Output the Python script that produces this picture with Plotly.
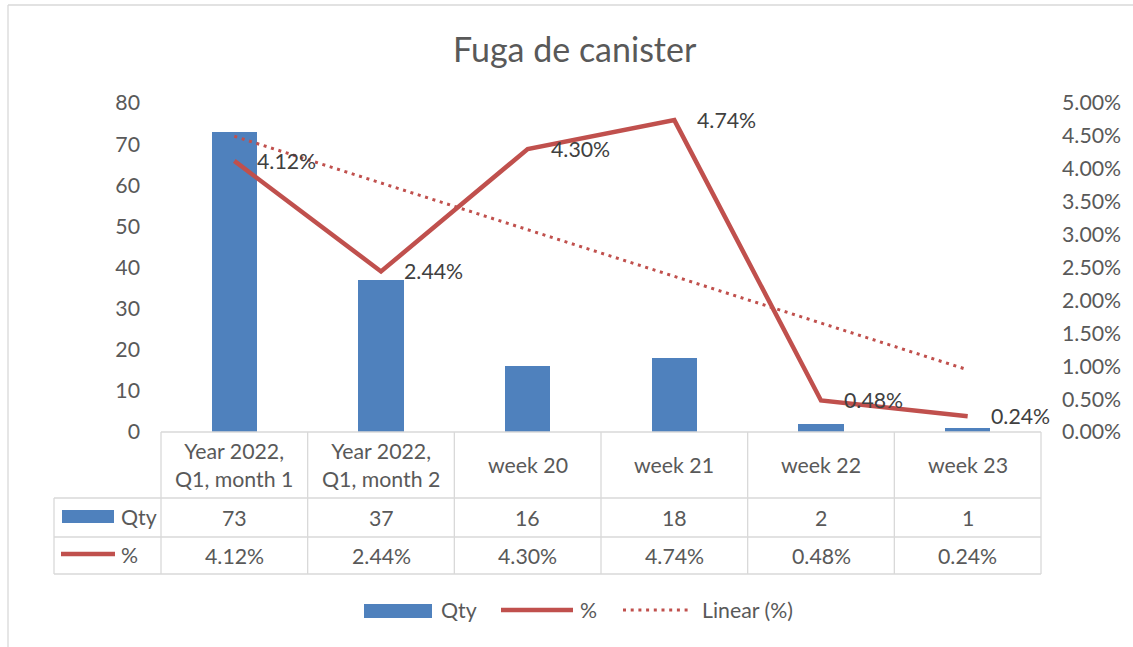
import numpy as np
import plotly.graph_objects as go

# ---- data ----
categories = ["Year 2022, Q1, month 1", "Year 2022, Q1, month 2",
              "week 20", "week 21", "week 22", "week 23"]
category_labels = ["Year 2022,<br>Q1, month 1", "Year 2022,<br>Q1, month 2",
                   "week 20", "week 21", "week 22", "week 23"]
qty = [73, 37, 16, 18, 2, 1]
pct = [0.0412, 0.0244, 0.0430, 0.0474, 0.0048, 0.0024]
y_ticks = [0, 10, 20, 30, 40, 50, 60, 70, 80]
y2_ticks = [0, 0.005, 0.01, 0.015, 0.02, 0.025, 0.03, 0.035, 0.04, 0.045, 0.05]

# linear trendline of the percentage series
xi = np.arange(1, len(pct) + 1)
slope, intercept = np.polyfit(xi, pct, 1)
trend = (slope * xi + intercept).tolist()

# ---- styling ----
FONT = "Lato"
FS = 21.3
TXT = "#595959"
BLUE = "#4F81BD"
RED = "#C0504D"
GRID = "#D9D9D9"
DOTS = "3px,4.7px"
W_FIG, H_FIG = 1133, 647
L, R, T, B = 161, 1041, 103, 432
PW, PH = R - L, B - T


def px(x):
    return (x - L) / PW


def py(y):
    return (B - y) / PH


fig = go.Figure()
fig.add_trace(go.Bar(x=categories, y=qty, name="Qty", marker_color=BLUE,
                     width=0.31, marker_line_width=0))
fig.add_trace(go.Scatter(x=categories, y=pct, name="%", yaxis="y2", mode="lines",
                         line=dict(color=RED, width=4.5)))
fig.add_trace(go.Scatter(x=categories, y=trend, name="Linear (%)", yaxis="y2",
                         mode="lines", line=dict(color=RED, width=3, dash=DOTS)))

shapes = []
annotations = []


def hline(x0, x1, y, color=GRID, w=1.3):
    shapes.append(dict(type="line", xref="paper", yref="paper", x0=px(x0), x1=px(x1),
                       y0=py(y), y1=py(y), line=dict(color=color, width=w)))


def vline(x, y0, y1, color=GRID, w=1.3):
    shapes.append(dict(type="line", xref="paper", yref="paper", x0=px(x), x1=px(x),
                       y0=py(y0), y1=py(y1), line=dict(color=color, width=w)))


def text(x, y, s, size=FS, anchor="center", color=TXT):
    annotations.append(dict(xref="paper", yref="paper", x=px(x), y=py(y), text=s,
                            showarrow=False, xanchor=anchor, yanchor="middle",
                            font=dict(family=FONT, size=size, color=color)))


# outer chart border
hline(8, 1140, 5)
vline(8, 5, 660)

# data table grid
row_top, row1, row2, row3 = 432, 498, 537, 574
col_w = PW / len(categories)
hline(L, R, row_top)
for y in (row1, row2, row3):
    hline(54, R, y)
vline(L, row_top, row3)
vline(54, row1, row3)
for k in range(1, len(categories) + 1):
    vline(L + k * col_w, row_top, row3)

# data table contents
for k, cat in enumerate(categories):
    annotations.append(dict(xref="x", yref="paper", x=cat, y=py((row_top + row1) / 2),
                            text=category_labels[k], showarrow=False, xanchor="center",
                            yanchor="middle", font=dict(family=FONT, size=FS, color=TXT)))
    annotations.append(dict(xref="x", yref="paper", x=cat, y=py((row1 + row2) / 2),
                            text=str(qty[k]), showarrow=False, xanchor="center",
                            yanchor="middle", font=dict(family=FONT, size=FS, color=TXT)))
    annotations.append(dict(xref="x", yref="paper", x=cat, y=py((row2 + row3) / 2),
                            text=f"{pct[k] * 100:.2f}%", showarrow=False, xanchor="center",
                            yanchor="middle", font=dict(family=FONT, size=FS, color=TXT)))

# table legend keys
shapes.append(dict(type="rect", xref="paper", yref="paper", x0=px(62), x1=px(114),
                   y0=py(523), y1=py(510), fillcolor=BLUE, line=dict(width=0)))
text(119, 517, "Qty", anchor="left")
hline(61, 115, 554, color=RED, w=4.5)
text(119, 555, "%", anchor="left")

# data labels on the percentage line
for k, cat in enumerate(categories):
    annotations.append(dict(xref="x", yref="y2", x=cat, y=pct[k],
                            text=f"{pct[k] * 100:.2f}%", showarrow=False, xanchor="left",
                            yanchor="middle", xshift=21,
                            font=dict(family=FONT, size=FS, color="#404040")))

# legend below the table
shapes.append(dict(type="rect", xref="paper", yref="paper", x0=px(364), x1=px(432),
                   y0=py(618), y1=py(604), fillcolor=BLUE, line=dict(width=0)))
text(439, 610, "Qty", anchor="left")
hline(501, 573, 610, color=RED, w=4.5)
text(578, 610, "%", anchor="left")
shapes.append(dict(type="line", xref="paper", yref="paper", x0=px(623), x1=px(692),
                   y0=py(610), y1=py(610),
                   line=dict(color=RED, width=3, dash=DOTS)))
text(700, 610, "Linear (%)", anchor="left")

# title
text(575, 48, "Fuga de canister", size=34)

fig.update_layout(
    width=W_FIG, height=H_FIG,
    margin=dict(l=L, r=W_FIG - R, t=T, b=H_FIG - B),
    paper_bgcolor="white", plot_bgcolor="white",
    showlegend=False,
    bargap=0,
    xaxis=dict(type="category", range=[-0.5, len(categories) - 0.5],
               showticklabels=False, showgrid=False, zeroline=False, showline=False,
               ticks=""),
    yaxis=dict(range=[0, 80], tickvals=y_ticks, showgrid=False, zeroline=False,
               showline=False, ticks="", ticklabelstandoff=20,
               tickfont=dict(family=FONT, size=FS, color=TXT)),
    yaxis2=dict(range=[0, 0.05], tickvals=y2_ticks, tickformat=".2%", overlaying="y",
                side="right", showgrid=False, zeroline=False, showline=False, ticks="",
                ticklabelstandoff=20, tickfont=dict(family=FONT, size=FS, color=TXT)),
    shapes=shapes,
    annotations=annotations,
)

fig.write_html("out.html")
